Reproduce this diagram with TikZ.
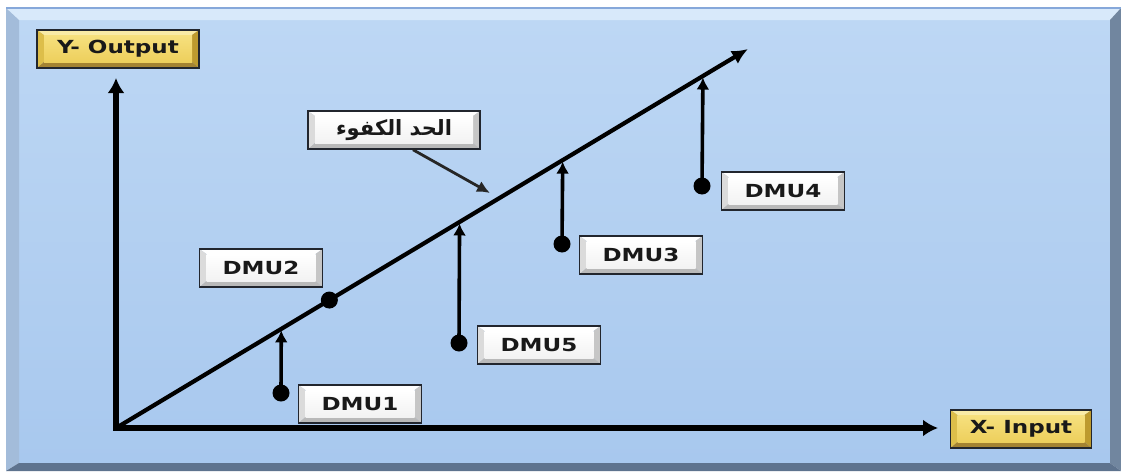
\documentclass[tikz,border=0pt]{standalone}
\usepackage{fontspec}
\usetikzlibrary{arrows.meta,calc}
\TeXXeTstate=1
\newfontfamily\lblfont{DejaVu Sans}[FakeStretch=1.28]
\newfontfamily\arabicfont[Script=Arabic]{DejaVu Sans}
\definecolor{panelA}{HTML}{BDD7F4}
\definecolor{panelB}{HTML}{A8C8EE}
\definecolor{panelTop}{HTML}{D8E9FA}
\definecolor{panelLine}{HTML}{86A8DA}
\definecolor{panelLeft}{HTML}{A3BCDA}
\definecolor{panelRight}{HTML}{71869F}
\definecolor{panelBot}{HTML}{5E738E}
\definecolor{goldTop}{HTML}{F9EBA6}
\definecolor{goldLeft}{HTML}{DDBE4A}
\definecolor{goldRight}{HTML}{BD9A2E}
\definecolor{goldBot}{HTML}{A48332}
\definecolor{goldFaceA}{HTML}{F6E07E}
\definecolor{goldFaceB}{HTML}{EDCF5C}
\definecolor{edge}{HTML}{22262E}
\tikzset{
  bevelbox/.style n args={6}{draw=edge, line width=1.5pt, inner sep=0pt,
    font=\lblfont\bfseries\fontsize{18}{21}\selectfont, text=black!90,
    path picture={
      \path (path picture bounding box.north west) coordinate (pNW)
            (path picture bounding box.north east) coordinate (pNE)
            (path picture bounding box.south west) coordinate (pSW)
            (path picture bounding box.south east) coordinate (pSE);
      \path ([shift={(7pt,-5pt)}]pNW) coordinate (qNW)
            ([shift={(-7pt,-5pt)}]pNE) coordinate (qNE)
            ([shift={(7pt,6pt)}]pSW) coordinate (qSW)
            ([shift={(-7pt,6pt)}]pSE) coordinate (qSE);
      \fill[#1] (pNW)--(pNE)--(qNE)--(qNW)--cycle;
      \fill[#2] (pNW)--(pSW)--(qSW)--(qNW)--cycle;
      \fill[#3] (pNE)--(pSE)--(qSE)--(qNE)--cycle;
      \fill[#4] (pSW)--(pSE)--(qSE)--(qSW)--cycle;
      \shade[top color=#5, bottom color=#6] (qNW) rectangle (qSE);
    }},
  dmubox/.style={bevelbox={white}{gray!28}{gray!45}{gray!55}{white}{gray!10},
    minimum width=123pt, minimum height=38pt},
  goldbox/.style={bevelbox={goldTop}{goldLeft}{goldRight}{goldBot}{goldFaceA}{goldFaceB},
    minimum height=38pt},
  dot/.style={circle, fill=black, inner sep=0pt, minimum size=17pt},
  axis/.style={line width=5.4pt, -{Latex[length=15pt,width=17pt]}},
  rise/.style={line width=3.6pt, -{Latex[length=12pt,width=13pt]}, shorten >=1.5pt},
  pointer/.style={line width=2.8pt, draw=black!85, -{Latex[length=13pt,width=12pt]}},
}
\begin{document}
\begin{tikzpicture}[x=1pt,y=-1pt]
  \useasboundingbox (0,0) rectangle (1121,471);
  \fill[white] (0,0) rectangle (1121,471);
  % panel with bevel
  \coordinate (PNW) at (6,8);   \coordinate (PNE) at (1121,8);
  \coordinate (PSW) at (6,471); \coordinate (PSE) at (1121,471);
  \coordinate (QNW) at (19,20); \coordinate (QNE) at (1110,20);
  \coordinate (QSW) at (19,463);\coordinate (QSE) at (1110,463);
  \shade[top color=panelA, bottom color=panelB] (QNW) rectangle (QSE);
  \fill[panelTop] (PNW)--(PNE)--(QNE)--(QNW)--cycle;
  \fill[panelLeft] (PNW)--(PSW)--(QSW)--(QNW)--cycle;
  \fill[panelRight] (PNE)--(PSE)--(QSE)--(QNE)--cycle;
  \fill[panelBot] (PSW)--(PSE)--(QSE)--(QSW)--cycle;
  \draw[panelLine, line width=1.5pt] (PNW)--(PNE);

  % labels
  \node[goldbox, minimum width=162pt] (yout) at (118,49) {Y- Output};
  \node[goldbox, minimum width=141pt] (xin) at (1021,429) {X- Input};
  \node[dmubox, minimum width=172pt, font=\arabicfont\bfseries\fontsize{21}{24}\selectfont] (arab) at (394,130) {\beginR الحد الكفوء\endR};
  \node[dmubox] (b1) at (360,404) {DMU1};
  \node[dmubox] (b2) at (261,268) {DMU2};
  \node[dmubox] (b3) at (641,255) {DMU3};
  \node[dmubox] (b4) at (783,191) {DMU4};
  \node[dmubox] (b5) at (539,345) {DMU5};

  % axes
  \coordinate (O) at (116,428);
  \coordinate (YT) at (116,78);
  \coordinate (XT) at (938,428);
  \coordinate (T) at (748,49);
  \draw[axis, line cap=rect] (O) -- (YT);
  \draw[axis] (O) -- (XT);
  \draw[line width=4.2pt, -{Latex[length=16pt,width=15pt]}] (O) -- (T);

  % DMU points
  \node[dot] (d1) at (281,393) {};
  \node[dot] (d2) at ($(O)!0.3376!(T)$) {};
  \node[dot] (d3) at (562,244) {};
  \node[dot] (d4) at (702,186) {};
  \node[dot] (d5) at (459,343) {};
  \coordinate (t1) at ($(O)!0.2615!(T)$);
  \coordinate (t3) at ($(O)!0.7068!(T)$);
  \coordinate (t4) at ($(O)!0.9287!(T)$);
  \coordinate (t5) at ($(O)!0.5436!(T)$);
  \draw[rise] (d1.center) -- (t1);
  \draw[rise] (d3.center) -- (t3);
  \draw[rise] (d4.center) -- (t4);
  \draw[rise] (d5.center) -- (t5);

  % pointer to efficient frontier
  \coordinate (ap) at (490,193);
  \draw[pointer] ([xshift=19pt]arab.south) -- (ap);
\end{tikzpicture}
\end{document}
